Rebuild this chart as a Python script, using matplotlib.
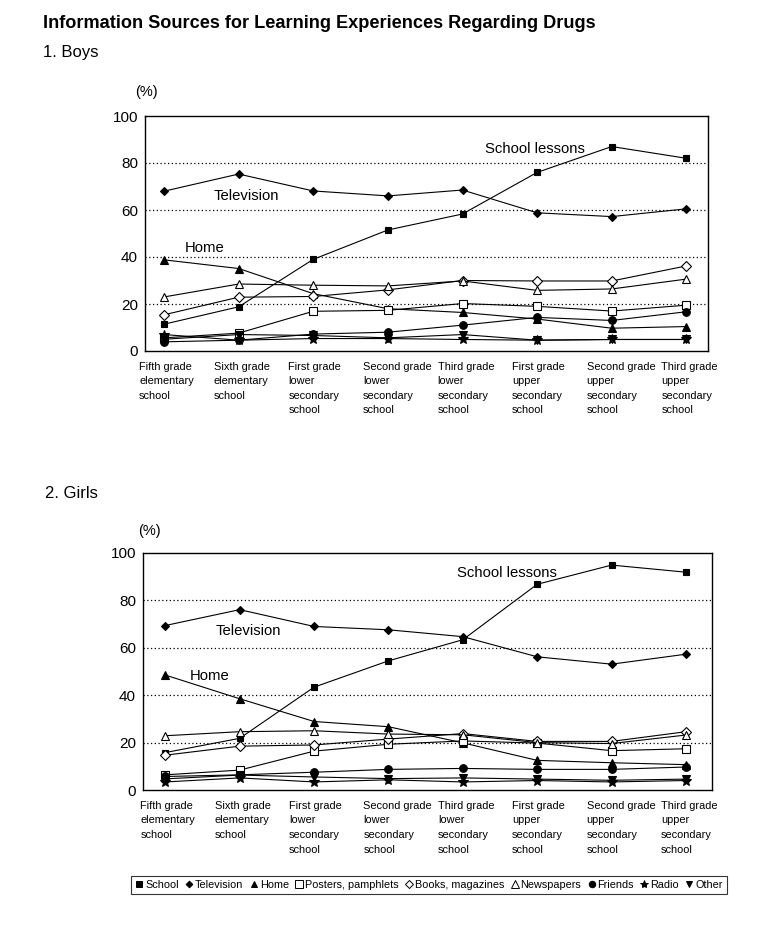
import matplotlib
matplotlib.use("Agg")
import matplotlib.pyplot as plt
from matplotlib.lines import Line2D
import matplotlib.transforms as mtransforms

plt.rcParams['font.family'] = ['Liberation Sans', 'DejaVu Sans']

categories = ["Fifth grade\nelementary\nschool", "Sixth grade\nelementary\nschool",
              "First grade\nlower\nsecondary\nschool", "Second grade\nlower\nsecondary\nschool",
              "Third grade\nlower\nsecondary\nschool", "First grade\nupper\nsecondary\nschool",
              "Second grade\nupper\nsecondary\nschool", "Third grade\nupper\nsecondary\nschool"]

series_names = ["School", "Television", "Home", "Posters, pamphlets", "Books, magazines",
                "Newspapers", "Friends", "Radio", "Other"]

boys_school = [11.4, 18.8, 39.0, 51.5, 58.3, 76.0, 87.0, 82.0]
boys_tv = [68.0, 75.3, 68.1, 66.0, 68.5, 58.8, 57.2, 60.5]
boys_home = [38.8, 35.1, 24.4, 18.0, 16.4, 13.6, 9.7, 10.4]
boys_posters = [5.6, 7.6, 16.9, 17.3, 20.2, 19.0, 17.0, 19.5]
boys_books = [15.4, 22.9, 23.2, 26.0, 30.0, 29.8, 29.8, 36.2]
boys_news = [23.0, 28.5, 28.0, 27.7, 29.8, 25.8, 26.4, 30.6]
boys_friends = [3.9, 4.6, 7.2, 8.0, 11.0, 14.3, 13.0, 16.7]
boys_radio = [7.0, 4.6, 5.3, 5.3, 4.9, 4.6, 4.9, 4.9]
boys_other = [5.0, 7.0, 6.6, 5.6, 7.0, 4.6, 4.9, 4.9]

girls_school = [15.8, 21.8, 43.4, 54.5, 63.4, 86.8, 94.9, 91.9]
girls_tv = [69.4, 76.1, 69.0, 67.6, 64.7, 56.2, 53.1, 57.3]
girls_home = [48.5, 38.5, 28.9, 26.7, 19.9, 12.5, 11.5, 10.7]
girls_posters = [6.4, 8.4, 16.4, 19.3, 20.7, 19.8, 16.6, 17.4]
girls_books = [14.7, 18.5, 19.0, 21.5, 23.8, 20.5, 20.5, 24.6]
girls_news = [22.9, 24.6, 25.0, 23.6, 23.3, 20.0, 19.6, 23.2]
girls_friends = [5.7, 6.4, 7.5, 8.7, 9.1, 8.7, 8.7, 9.7]
girls_radio = [3.4, 5.1, 3.4, 4.3, 3.4, 4.0, 3.4, 4.0]
girls_other = [4.7, 6.3, 5.5, 4.8, 5.1, 4.6, 4.1, 4.6]

yticks = [0, 20, 40, 60, 80, 100]

styles = [
    dict(marker='s', mfc='black', ms=5),
    dict(marker='D', mfc='black', ms=4),
    dict(marker='^', mfc='black', ms=5.5),
    dict(marker='s', mfc='white', ms=6),
    dict(marker='D', mfc='white', ms=5),
    dict(marker='^', mfc='white', ms=6),
    dict(marker='o', mfc='black', ms=5.5),
    dict(marker='*', mfc='black', ms=7),
    dict(marker='v', mfc='black', ms=5.5),
]

boys = [boys_school, boys_tv, boys_home, boys_posters, boys_books, boys_news,
        boys_friends, boys_radio, boys_other]
girls = [girls_school, girls_tv, girls_home, girls_posters, girls_books, girls_news,
         girls_friends, girls_radio, girls_other]

fig = plt.figure(figsize=(7.67, 9.41), dpi=100)
W, H = 767, 941


def make_axes(left, top, right, bottom):
    return fig.add_axes([left / W, 1 - bottom / H, (right - left) / W, (bottom - top) / H])


def draw(ax, data, xlim, notes, pct_dx, pct_dy):
    x = list(range(len(categories)))
    order = [8, 7, 6, 3, 5, 4, 2, 1, 0]
    for i in order:
        st = styles[i]
        ax.plot(x, data[i], color='black', lw=0.8, marker=st['marker'], ms=st['ms'],
                mfc=st['mfc'], mec='black', mew=0.8, zorder=3 + i * 0.1, clip_on=False)
    ax.set_xlim(*xlim)
    ax.set_ylim(0, 100)
    ax.set_yticks(yticks)
    ax.set_yticklabels([str(v) for v in yticks], fontsize=11)
    ax.tick_params(axis='y', length=0, pad=5)
    ax.set_xticks([])
    for v in yticks[1:-1]:
        ax.axhline(v, color='black', lw=0.9, ls=(0, (1, 2)), zorder=1)
    for s in ax.spines.values():
        s.set_linewidth(1.0)
    trans = mtransforms.blended_transform_factory(ax.transData, ax.transAxes)
    off = mtransforms.ScaledTranslation(-25 / 100, 0, fig.dpi_scale_trans)
    for i, lab in enumerate(categories):
        ax.text(i, -0.045, lab, transform=trans + off, ha='left', va='top',
                fontsize=7.9, linespacing=1.58, multialignment='left')
    poff = mtransforms.ScaledTranslation(pct_dx / 100, pct_dy / 100, fig.dpi_scale_trans)
    ax.text(0, 1, "(%)", transform=ax.transAxes + poff, fontsize=10.5,
            ha='left', va='center')
    for txt, xx, yy in notes:
        ax.text(xx, yy, txt, fontsize=10.7, ha='left', va='center')


ax1 = make_axes(145, 116, 708, 351)
draw(ax1, boys, (-0.255, 7.29),
     [("School lessons", 4.3, 86.0), ("Television", 0.66, 66.0), ("Home", 0.28, 44.0)],
     -10, 24)

ax2 = make_axes(143, 553, 712, 790)
draw(ax2, girls, (-0.30, 7.35),
     [("School lessons", 3.92, 91.5), ("Television", 0.68, 67.0), ("Home", 0.33, 48.0)],
     -5, 22)

fig.text(43 / W, 1 - 23 / H, "Information Sources for Learning Experiences Regarding Drugs",
         fontsize=13.1, fontweight='bold', ha='left', va='center')
fig.text(43 / W, 1 - 53 / H, "1. Boys", fontsize=12, ha='left', va='center')
fig.text(45 / W, 1 - 493 / H, "2. Girls", fontsize=12, ha='left', va='center')

handles = [Line2D([], [], ls='none', marker=st['marker'], ms=st['ms'] * 0.85, mfc=st['mfc'],
                  mec='black', mew=0.7) for st in styles]
leg = fig.legend(handles, series_names, loc='center', bbox_to_anchor=(429 / W, 1 - 885 / H),
                 ncol=9, fontsize=7.8, handlelength=0.7, handletextpad=0.2, columnspacing=0.6,
                 frameon=True, fancybox=False, edgecolor='black', borderpad=0.4)
leg.get_frame().set_linewidth(0.8)

fig.savefig("out.png", dpi=100)
